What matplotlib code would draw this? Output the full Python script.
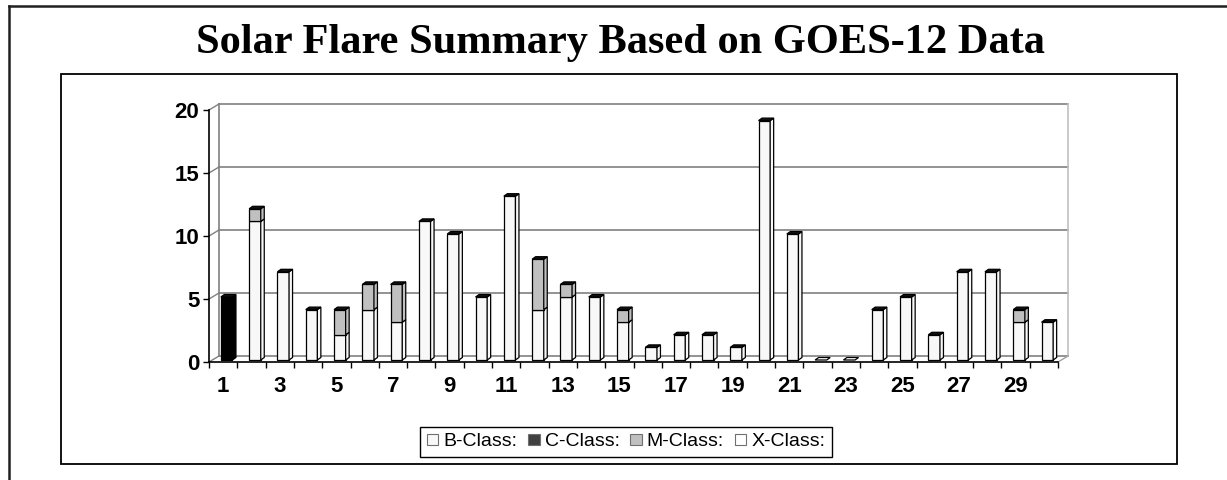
import numpy as np
import matplotlib.pyplot as plt
from matplotlib.patches import Polygon, Rectangle, Patch
from matplotlib.lines import Line2D

# --- data ---
days = np.arange(1, 31)
b_class = [0, 11, 7, 4, 2, 4, 3, 11, 10, 5, 13, 4, 5, 5, 3,
           1, 2, 2, 1, 19, 10, 0, 0, 4, 5, 2, 7, 7, 3, 3]
c_class = [5, 0, 0, 0, 0, 0, 0, 0, 0, 0, 0, 0, 0, 0, 0,
           0, 0, 0, 0, 0, 0, 0, 0, 0, 0, 0, 0, 0, 0, 0]
m_class = [0, 1, 0, 0, 2, 2, 3, 0, 0, 0, 0, 4, 1, 0, 1,
           0, 0, 0, 0, 0, 0, 0, 0, 0, 0, 0, 0, 0, 1, 0]
x_class = [0, 0, 0, 0, 0, 0, 0, 0, 0, 0, 0, 0, 0, 0, 0,
           0, 0, 0, 0, 0, 0, 0, 0, 0, 0, 0, 0, 0, 0, 0]
series_names = ['B-Class:', 'C-Class:', 'M-Class:', 'X-Class:']
series_colors = ['#f8f8f8', '#000000', '#c0c0c0', '#ffffff']
yticks = [0, 5, 10, 15, 20]

W, H = 1227, 480
fig = plt.figure(figsize=(W / 100, H / 100), dpi=100)

# outer frame (only left and top edges fall inside the picture) and chart box
fig.add_artist(Line2D([9 / W, 9 / W], [0, 1 - 6 / H], transform=fig.transFigure,
                      color='#202020', lw=1.8))
fig.add_artist(Line2D([9 / W, 1], [1 - 6 / H, 1 - 6 / H], transform=fig.transFigure,
                      color='#202020', lw=1.8))
fig.add_artist(Rectangle((61 / W, 1 - 464 / H), (1177 - 61) / W, (464 - 74) / H,
                         transform=fig.transFigure, fill=False, ec='black', lw=1.3))

fig.text(620 / W, 1 - 42.5 / H, 'Solar Flare Summary Based on GOES-12 Data',
         ha='center', va='center', family='Liberation Serif', weight='bold', fontsize=30.5)

# front plane of the pseudo-3D plot
ax = fig.add_axes([209 / W, (H - 362) / H, 849 / W, 252 / H])
ax.set_xlim(0.5, 30.5)
ax.set_ylim(0, 20)
ax.patch.set_visible(False)

ppx = 849 / 30.0   # pixels per x unit
ppy = 252 / 20.0   # pixels per y unit
wdx, wdy = 10 / ppx, 6 / ppy        # back wall offset
ox, oy = 3.5 / ppx, 2 / ppy         # bar front offset
bdx, bdy = 3.5 / ppx, 2.5 / ppy     # bar depth

# back wall grid
for g in yticks:
    ax.plot([0.5 + wdx, 30.5 + wdx], [g + wdy, g + wdy], color='#808080', lw=1.2,
            clip_on=False, zorder=1)
    ax.plot([0.5, 0.5 + wdx], [g, g + wdy], color='#808080', lw=1, clip_on=False, zorder=1)
ax.plot([0.5 + wdx, 0.5 + wdx], [wdy, 20 + wdy], color='#808080', lw=1.2, clip_on=False, zorder=1)
ax.plot([30.5 + wdx, 30.5 + wdx], [wdy, 20 + wdy], color='#c0c0c0', lw=1.2, clip_on=False, zorder=1)
ax.plot([30.5, 30.5 + wdx], [0, wdy], color='#a0a0a0', lw=1, clip_on=False, zorder=1)

# stacked bars
width = 0.41
bottom = np.zeros(len(days))
for vals, color, name in zip([b_class, c_class, m_class, x_class], series_colors, series_names):
    vals = np.array(vals, dtype=float)
    mask = vals > 0
    ax.bar(days[mask] + ox, vals[mask], width, bottom=bottom[mask] + oy, color=color,
           edgecolor='black', lw=0.9, zorder=3, clip_on=False)
    for x, b, v in zip(days[mask], bottom[mask], vals[mask]):
        xr = x + width / 2 + ox
        side = [(xr, b + oy), (xr + bdx, b + oy + bdy), (xr + bdx, b + v + oy + bdy), (xr, b + v + oy)]
        ax.add_patch(Polygon(side, closed=True, fc=color, ec='black', lw=0.9, zorder=3,
                             clip_on=False))
    bottom += vals

for x, t in zip(days, bottom):
    xl, xr = x - width / 2 + ox, x + width / 2 + ox
    top = [(xl, t + oy), (xl + bdx, t + oy + bdy), (xr + bdx, t + oy + bdy), (xr, t + oy)]
    ax.add_patch(Polygon(top, closed=True, fc='#111111' if t > 0 else 'white', ec='black',
                         lw=0.9, zorder=4, clip_on=False))

# axes
for s in ['top', 'right']:
    ax.spines[s].set_visible(False)
for s in ['left', 'bottom']:
    ax.spines[s].set_color('black')
    ax.spines[s].set_linewidth(1.2)
    ax.spines[s].set_zorder(5)
ax.set_yticks(yticks)
ax.set_xticks(days[::2])
ax.set_xticks(np.arange(0.5, 31, 1), minor=True)
ax.tick_params(axis='y', length=4, width=1, pad=3, labelsize=16)
ax.tick_params(axis='x', which='major', length=0, pad=10, labelsize=16)
ax.tick_params(axis='x', which='minor', length=4, width=1)
for lab in ax.get_xticklabels() + ax.get_yticklabels():
    lab.set_fontweight('bold')
    lab.set_family('Liberation Sans')

handles = [Patch(facecolor=c, edgecolor='#707070', lw=0.8) for c in ['#f8f8f8', '#404040', '#c0c0c0', '#ffffff']]
leg = ax.legend(handles, series_names, loc='center', bbox_to_anchor=(626 / W, 1 - 442 / H),
                bbox_transform=fig.transFigure, ncol=4, fancybox=False, framealpha=1,
                edgecolor='black', prop={'family': 'Liberation Sans', 'size': 14},
                handlelength=0.6, handleheight=0.45, handletextpad=0.25,
                columnspacing=0.55, borderpad=0.35, borderaxespad=0)
leg.get_frame().set_linewidth(1)

fig.savefig('out.png', dpi=100)
